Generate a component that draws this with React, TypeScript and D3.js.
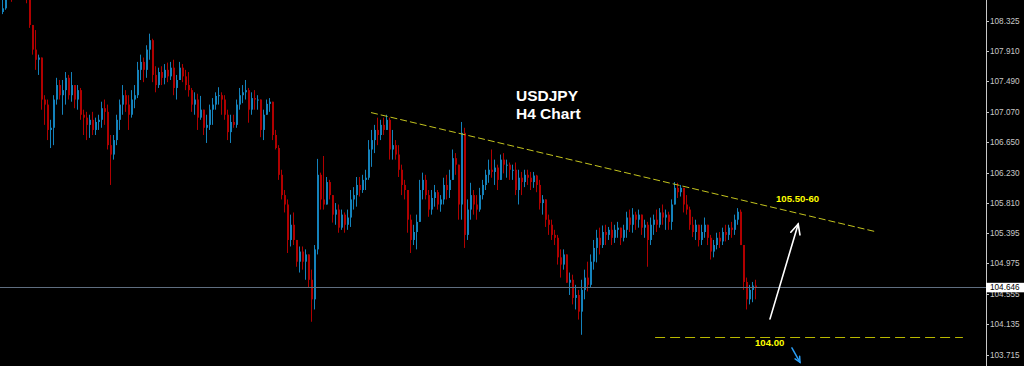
import React, { useEffect, useRef } from "react";
import * as d3 from "d3";

const W = 1024;
const H = 366;

const firstOpen = 108.45;
const highs = [108.75,108.73,108.89,108.82,108.96,109.03,109.00,108.96,108.82,108.68,108.27,108.20,107.86,107.65,107.30,107.24,106.96,107.30,107.54,107.51,107.51,107.62,107.58,107.62,107.44,107.44,107.40,107.10,107.07,107.03,107.07,106.99,107.03,107.21,107.24,107.17,106.75,106.75,107.03,107.24,107.44,107.37,107.30,107.37,107.44,107.76,107.86,107.82,107.99,108.15,108.08,107.70,107.68,107.70,107.73,107.75,107.76,107.79,107.58,107.76,107.73,107.65,107.62,107.40,107.34,107.32,107.29,107.10,107.03,107.17,107.26,107.34,107.41,107.34,107.30,107.10,107.03,107.03,107.24,107.40,107.44,107.51,107.40,107.34,107.37,107.30,107.24,107.10,107.24,107.26,107.21,106.82,106.61,106.27,105.99,105.86,105.65,105.68,105.26,105.21,105.21,105.17,105.07,104.89,105.23,106.42,106.23,106.46,106.17,106.13,105.92,105.81,105.79,105.72,105.68,105.72,105.99,106.03,106.17,106.17,106.20,106.27,106.68,106.82,106.89,106.99,106.96,106.99,107.03,106.99,106.82,106.68,106.61,106.34,106.13,105.99,105.65,105.51,105.65,106.13,106.23,106.20,105.99,105.99,106.06,105.99,105.92,106.16,106.20,106.27,106.55,106.50,106.34,106.93,106.85,105.86,106.09,105.99,105.92,106.02,106.13,106.27,106.41,106.55,106.41,106.34,106.48,106.50,106.41,106.37,106.34,106.37,106.27,106.24,106.27,106.27,106.24,106.24,106.20,106.13,105.92,105.79,105.65,105.58,105.44,105.37,105.17,105.17,105.10,104.85,104.82,104.68,104.61,104.75,104.89,105.00,105.10,105.30,105.44,105.47,105.50,105.51,105.48,105.55,105.51,105.55,105.47,105.51,105.69,105.72,105.74,105.69,105.72,105.62,105.58,105.55,105.61,105.65,105.72,105.74,105.79,105.72,105.69,105.86,106.10,106.09,106.06,105.99,105.92,105.76,105.62,105.58,105.48,105.51,105.61,105.51,105.37,105.30,105.40,105.41,105.47,105.51,105.51,105.55,105.65,105.74,105.72,105.23,104.78,104.68,104.72,104.75];
const lows = [108.42,108.48,108.66,108.59,108.73,108.78,108.75,108.68,108.57,108.23,107.86,107.65,107.58,107.10,106.89,106.68,106.57,106.61,107.17,107.24,107.03,107.17,107.24,107.21,107.12,107.10,106.96,106.75,106.68,106.71,106.75,106.75,106.82,106.85,106.89,106.55,106.06,106.41,106.61,106.82,107.03,107.07,106.82,106.99,107.12,107.26,107.51,107.48,107.54,107.79,107.48,107.34,107.40,107.44,107.45,107.48,107.51,107.30,107.24,107.51,107.48,107.37,107.28,107.07,107.03,106.82,106.96,106.75,106.64,106.82,106.89,107.10,107.17,107.03,106.96,106.68,106.64,106.85,106.85,107.10,107.19,107.24,106.92,107.03,107.10,107.10,106.72,106.68,107.03,107.07,106.68,106.55,106.13,105.86,105.68,105.12,105.21,105.23,104.93,104.85,104.89,104.75,104.64,104.17,104.34,105.10,105.72,105.72,105.86,105.86,105.54,105.51,105.40,105.44,105.40,105.44,105.48,105.72,105.76,105.90,105.95,105.99,106.13,106.31,106.50,106.61,106.68,106.75,106.82,106.41,106.41,106.41,106.17,105.92,105.86,105.40,105.12,105.23,105.17,105.62,105.86,105.86,105.62,105.65,105.76,105.72,105.69,105.79,105.86,105.88,106.17,106.20,105.58,105.58,105.19,105.30,105.58,105.65,105.58,105.69,105.86,105.99,106.09,106.16,106.06,105.99,106.13,106.22,106.16,106.13,106.13,105.92,105.79,105.92,106.03,106.06,105.99,106.02,105.96,105.72,105.65,105.48,105.37,105.30,105.23,104.96,104.78,104.89,104.71,104.54,104.41,104.34,104.20,103.99,104.48,104.59,104.64,104.89,104.99,105.10,105.19,105.23,105.30,105.23,105.26,105.33,105.23,105.28,105.33,105.41,105.40,105.44,105.47,105.37,105.33,104.93,105.23,105.37,105.41,105.47,105.51,105.44,105.44,105.44,105.79,105.88,105.90,105.68,105.65,105.44,105.34,105.30,105.21,105.23,105.33,105.23,105.03,105.06,105.17,105.19,105.23,105.28,105.30,105.33,105.37,105.51,105.23,104.61,104.34,104.41,104.44,104.48];
const closes = [108.50,108.62,108.75,108.68,108.89,108.92,108.82,108.75,108.64,108.27,107.93,107.79,107.82,107.24,107.17,106.82,106.85,107.24,107.44,107.30,107.37,107.54,107.30,107.44,107.24,107.37,107.03,106.99,106.89,106.96,106.82,106.93,106.96,107.12,107.07,106.61,106.48,106.68,106.96,107.17,107.30,107.17,107.03,107.24,107.30,107.65,107.76,107.65,107.93,108.06,107.58,107.44,107.62,107.54,107.65,107.56,107.68,107.40,107.51,107.68,107.56,107.44,107.37,107.17,107.24,106.99,107.10,106.85,106.89,107.10,107.17,107.29,107.30,107.24,107.03,106.79,106.93,106.89,107.17,107.30,107.34,107.37,107.10,107.26,107.24,107.24,106.82,107.03,107.18,107.21,106.75,106.57,106.20,105.92,105.79,105.30,105.51,105.30,105.00,105.14,105.00,105.10,104.75,104.48,105.17,106.20,105.86,105.79,106.10,105.92,105.65,105.72,105.47,105.65,105.51,105.61,105.86,105.92,106.06,105.99,106.13,106.16,106.55,106.68,106.82,106.75,106.89,106.82,106.96,106.55,106.61,106.48,106.27,106.06,105.99,105.58,105.30,105.41,105.55,105.99,106.13,105.92,105.72,105.88,105.96,105.79,105.86,106.06,105.99,106.13,106.43,106.34,105.79,106.78,105.37,105.72,105.92,105.79,105.72,105.92,106.06,106.20,106.27,106.24,106.30,106.13,106.41,106.34,106.34,106.27,106.27,105.99,106.16,106.10,106.20,106.16,106.10,106.19,106.06,105.81,105.86,105.58,105.51,105.37,105.33,105.06,104.96,105.10,104.71,104.75,104.50,104.54,104.31,104.61,104.78,104.68,105.00,105.19,105.33,105.23,105.41,105.37,105.44,105.33,105.44,105.47,105.33,105.44,105.61,105.51,105.65,105.58,105.65,105.47,105.51,105.30,105.51,105.58,105.51,105.68,105.61,105.65,105.55,105.79,106.02,105.96,106.02,105.79,105.72,105.51,105.41,105.51,105.30,105.41,105.51,105.33,105.14,105.23,105.33,105.28,105.41,105.37,105.47,105.44,105.58,105.69,105.23,104.72,104.48,104.61,104.67,104.646];

const priceTicks = [108.325, 107.91, 107.49, 107.07, 106.65, 106.23, 105.81, 105.395, 104.975, 104.555, 104.135, 103.715];
const currentPrice = 104.646;

// annotations in data space (candle index, price)
const trendStart = [123, 107.06];
const trendEnd = [291.7, 105.41];
const supportLevel = 103.96;
const supportFrom = 217.7;
const supportTo = 320.3;
const supportLabel = "104.00";
const supportLabelAt = [251, 103.84];
const targetLabel = "105.50-60";
const targetLabelAt = [258, 105.83];
const upArrow = [[256, 104.21], [265.4, 105.52]];
const downArrow = [[263.3, 103.81], [266, 103.61]];
const titleLines = ["USDJPY", "H4 Chart"];

export default function App() {
  const ref = useRef<SVGSVGElement | null>(null);

  useEffect(() => {
    const svg = d3.select(ref.current);
    svg.selectAll("*").remove();

    const axisX = 986;
    const x = d3.scaleLinear().domain([0, 251]).range([2, 755]);
    const y = d3.scaleLinear().domain([103.715, 108.325]).range([354.7, 21]);

    svg.append("rect").attr("width", W).attr("height", H).attr("fill", "#000");

    const candles = closes.map((c, i) => {
      const o = i === 0 ? firstOpen : closes[i - 1];
      return { i, o, c, h: Math.max(highs[i], o, c), l: Math.min(lows[i], o, c) };
    });

    const bull = "#1482bb";
    const bear = "#b00000";
    const g = svg.append("g").attr("clip-path", "url(#plotclip)");
    svg.append("defs").append("clipPath").attr("id", "plotclip")
      .append("rect").attr("x", 0).attr("y", 0).attr("width", axisX).attr("height", H);

    g.selectAll("line.wick").data(candles).enter().append("line")
      .attr("x1", (d) => Math.round(x(d.i)) + 0.5)
      .attr("x2", (d) => Math.round(x(d.i)) + 0.5)
      .attr("y1", (d) => y(d.h))
      .attr("y2", (d) => y(d.l))
      .attr("stroke", (d) => (d.c >= d.o ? bull : bear))
      .attr("stroke-width", 1);

    g.selectAll("rect.body").data(candles).enter().append("rect")
      .attr("x", (d) => Math.round(x(d.i)))
      .attr("width", 2)
      .attr("y", (d) => y(Math.max(d.o, d.c)))
      .attr("height", (d) => Math.max(1, Math.abs(y(d.o) - y(d.c))))
      .attr("fill", (d) => (d.c >= d.o ? bull : bear));

    // current price line
    svg.append("line").attr("x1", 0).attr("x2", axisX)
      .attr("y1", Math.round(y(currentPrice)) + 0.5).attr("y2", Math.round(y(currentPrice)) + 0.5)
      .attr("stroke", "#5f6e80").attr("stroke-width", 1);

    // trendline
    svg.append("line")
      .attr("x1", x(trendStart[0])).attr("y1", y(trendStart[1]))
      .attr("x2", x(trendEnd[0])).attr("y2", y(trendEnd[1]))
      .attr("stroke", "#c4c41e").attr("stroke-width", 1).attr("stroke-dasharray", "7,3");

    // support dashed line
    svg.append("line")
      .attr("x1", x(supportFrom)).attr("x2", x(supportTo))
      .attr("y1", Math.round(y(supportLevel)) + 0.5).attr("y2", Math.round(y(supportLevel)) + 0.5)
      .attr("stroke", "#b8b800").attr("stroke-width", 1).attr("stroke-dasharray", "10,5");

    const label = (t: string, at: number[]) =>
      svg.append("text").attr("x", x(at[0])).attr("y", y(at[1]))
        .attr("fill", "#ffff00").attr("font-family", "'Liberation Sans', Arial, sans-serif")
        .attr("font-weight", "bold").attr("font-size", 9.6).text(t);
    label(targetLabel, targetLabelAt);
    label(supportLabel, supportLabelAt);

    // arrows
    const arrow = (pts: number[][], color: string, width: number, head: number) => {
      const x1 = x(pts[0][0]), y1 = y(pts[0][1]), x2 = x(pts[1][0]), y2 = y(pts[1][1]);
      const ang = Math.atan2(y2 - y1, x2 - x1);
      const a1 = ang + Math.PI - 0.45, a2 = ang + Math.PI + 0.45;
      svg.append("line").attr("x1", x1).attr("y1", y1).attr("x2", x2).attr("y2", y2)
        .attr("stroke", color).attr("stroke-width", width).attr("stroke-linecap", "round");
      svg.append("path")
        .attr("d", `M${x2 + head * Math.cos(a1)},${y2 + head * Math.sin(a1)}L${x2},${y2}L${x2 + head * Math.cos(a2)},${y2 + head * Math.sin(a2)}`)
        .attr("fill", "none").attr("stroke", color).attr("stroke-width", width)
        .attr("stroke-linejoin", "miter").attr("stroke-linecap", "round");
    };
    arrow(upArrow, "#ffffff", 1.6, 11);
    arrow(downArrow, "#2a9df4", 1.5, 6);

    // title
    titleLines.forEach((t, k) => {
      svg.append("text").attr("x", 516).attr("y", 101 + k * 17.5)
        .attr("fill", "#ffffff").attr("font-family", "'Liberation Sans', Arial, sans-serif")
        .attr("font-weight", "bold").attr("font-size", 15.5).text(t);
    });

    // price axis
    svg.append("line").attr("x1", axisX + 0.5).attr("x2", axisX + 0.5).attr("y1", 0).attr("y2", H)
      .attr("stroke", "#c8c8c8").attr("stroke-width", 1);
    const ax = svg.append("g");
    priceTicks.forEach((p) => {
      const yy = Math.round(y(p)) + 0.5;
      ax.append("line").attr("x1", axisX).attr("x2", axisX + 3).attr("y1", yy).attr("y2", yy)
        .attr("stroke", "#c8c8c8");
      ax.append("text").attr("x", axisX + 4).attr("y", yy).attr("dy", "0.35em")
        .attr("fill", "#c8c8c8").attr("font-family", "'Liberation Sans', Arial, sans-serif")
        .attr("font-size", 8.2).text(d3.format(".3f")(p));
    });

    // current price tag
    const cy = y(currentPrice);
    svg.append("rect").attr("x", axisX).attr("y", cy - 4.5).attr("width", W - axisX).attr("height", 9.5)
      .attr("fill", "#ffffff");
    svg.append("text").attr("x", axisX + 4).attr("y", cy).attr("dy", "0.35em")
      .attr("fill", "#000").attr("font-family", "'Liberation Sans', Arial, sans-serif")
      .attr("font-size", 8.2).text(d3.format(".3f")(currentPrice));
  }, []);

  return (
    <svg ref={ref} width={W} height={H}
      style={{ position: "absolute", left: 0, top: 0, display: "block", background: "#000" }} />
  );
}
